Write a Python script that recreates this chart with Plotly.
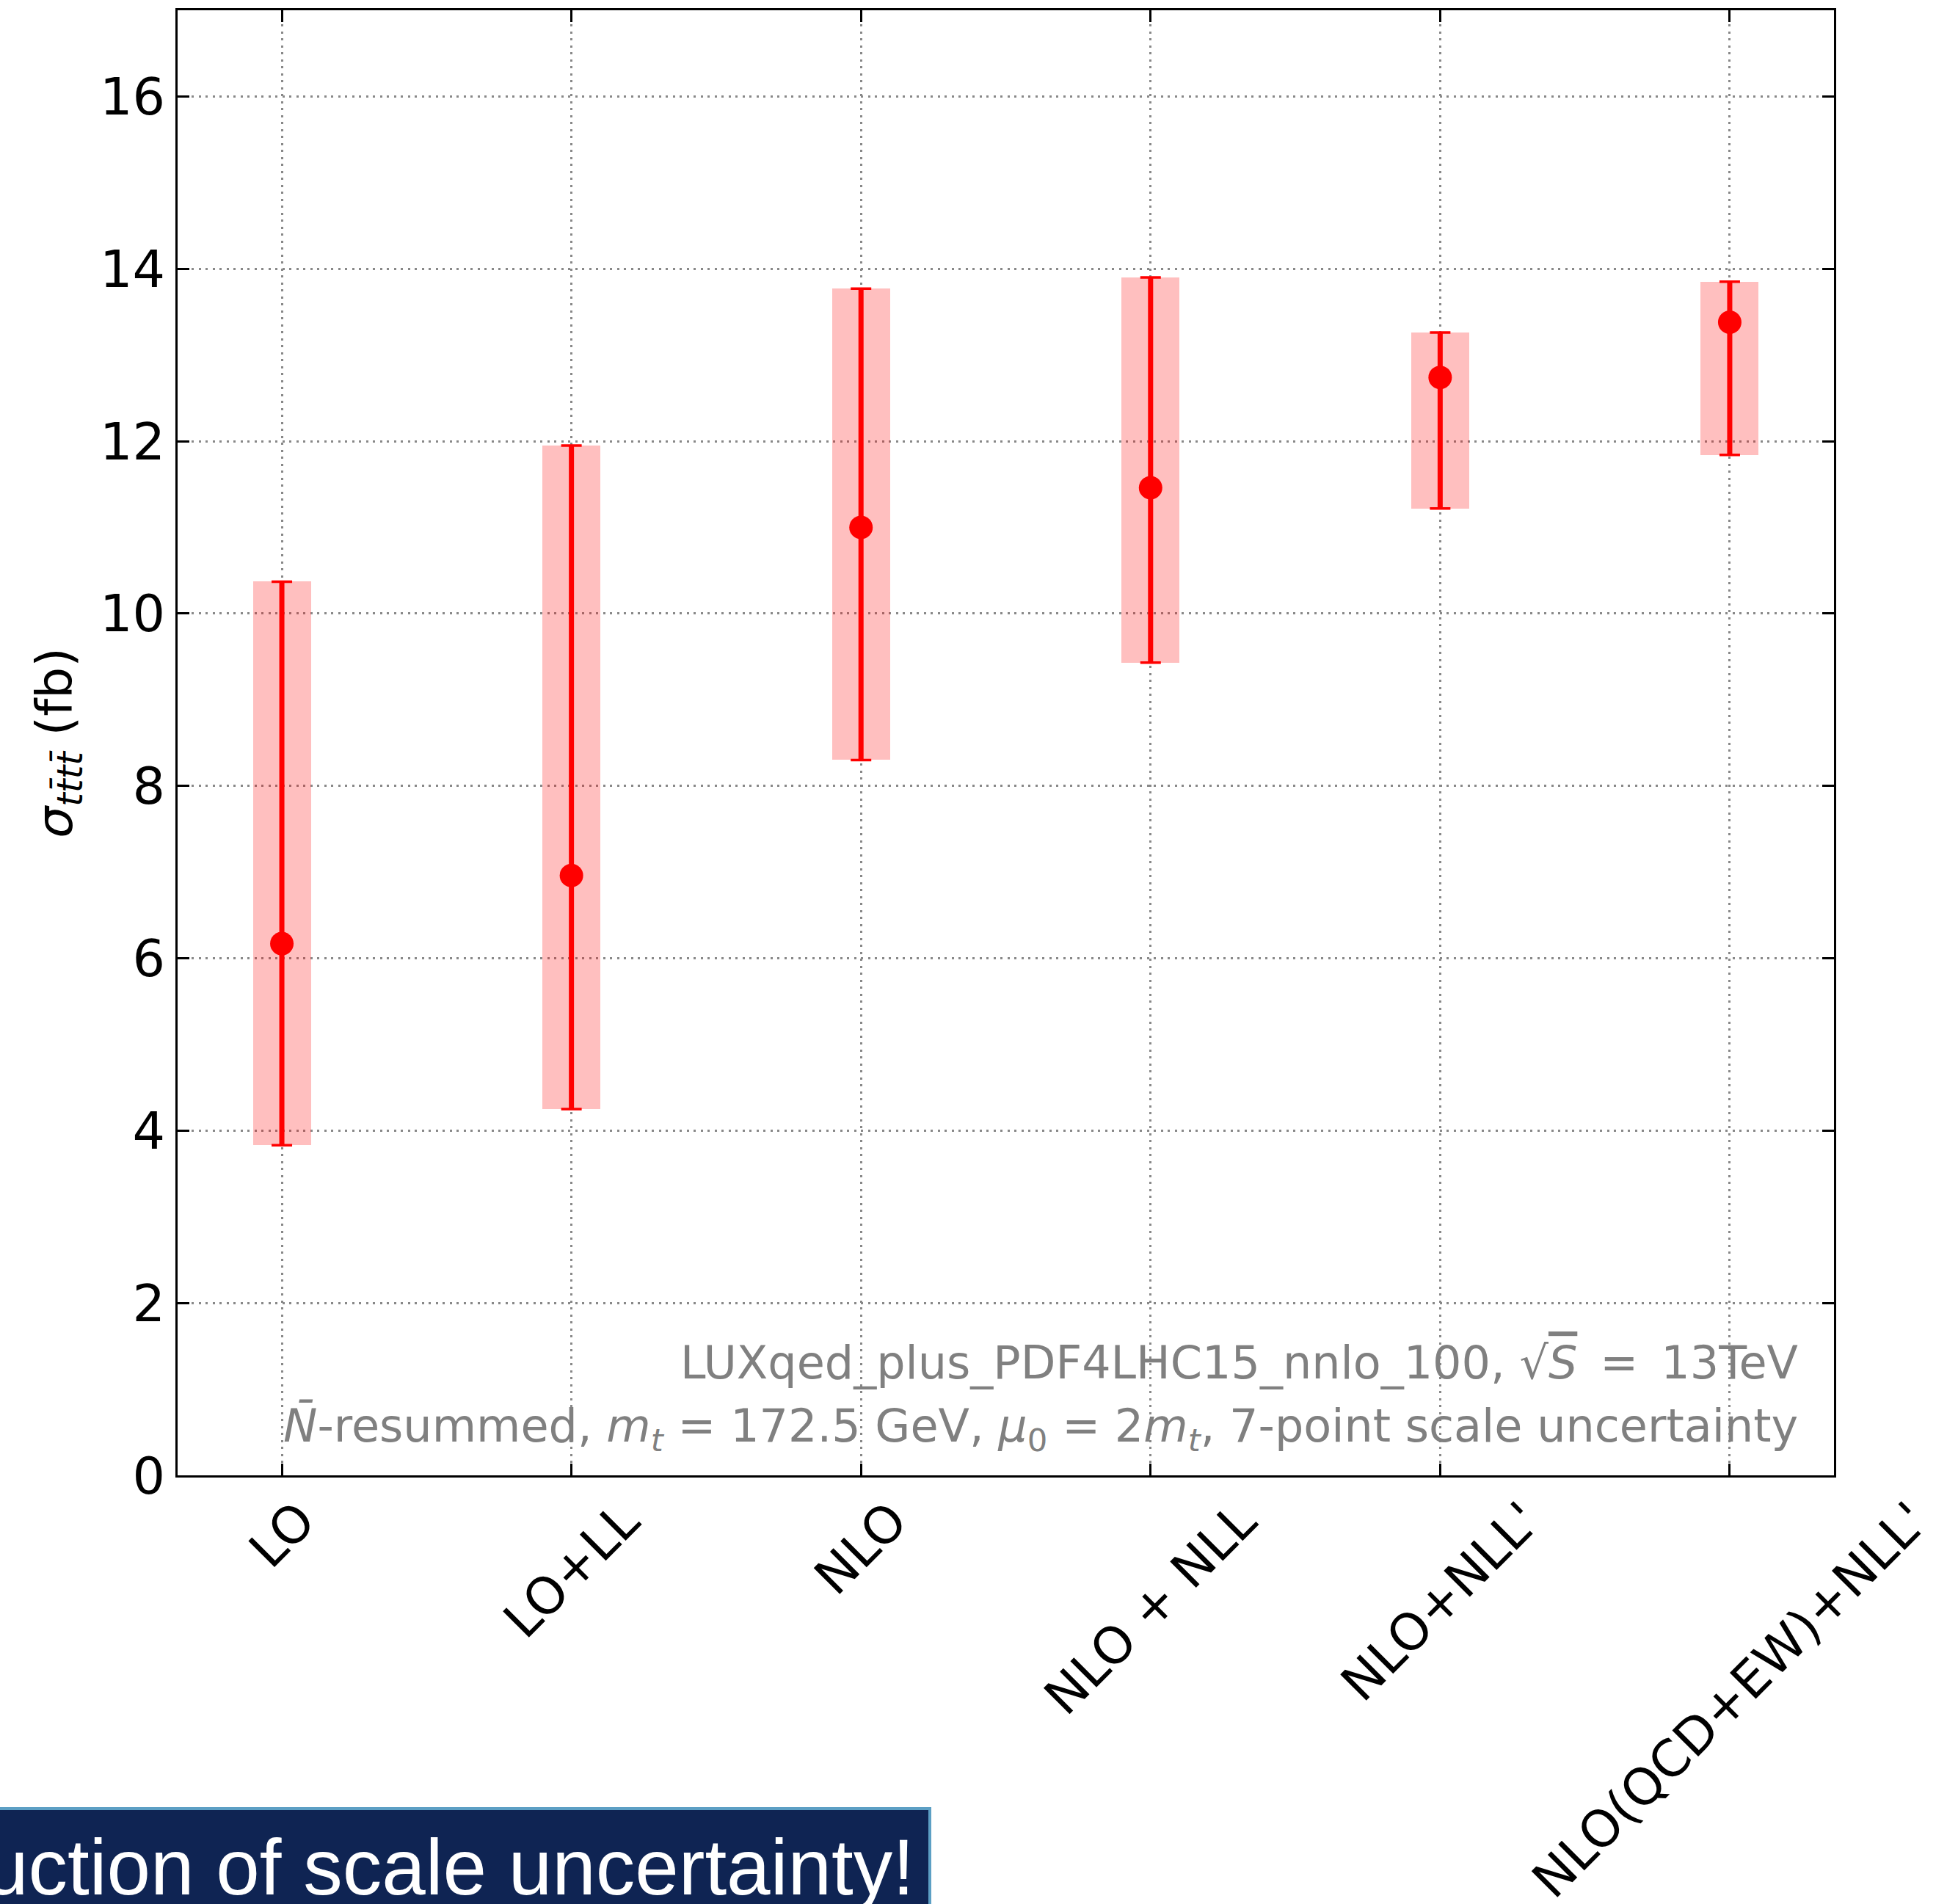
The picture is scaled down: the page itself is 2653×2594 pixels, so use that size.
import plotly.graph_objects as go

# Four-top cross sections at each perturbative order, with 7-point scale envelopes (fb)
categories = ["LO", "LO+LL", "NLO", "NLO + NLL", "NLO+NLL'", "NLO(QCD+EW)+NLL'"]
central = [6.17, 6.96, 11.00, 11.46, 12.74, 13.38]
upper = [10.37, 11.95, 13.77, 13.90, 13.26, 13.85]
lower = [3.83, 4.25, 8.30, 9.43, 11.22, 11.84]
y_ticks = [0, 2, 4, 6, 8, 10, 12, 14, 16]

W, H = 2653, 2594
ML, MR, MT, MB = 242, 154, 14, 584
PW, PH = W - ML - MR, H - MT - MB


def px_x(p):
    return (p - ML) / PW


def px_y(p):
    return (H - MB - p) / PH


pos = list(range(len(categories)))
RED = "#ff0000"
FONT = "DejaVu Sans"

fig = go.Figure()

# scale-uncertainty bands
fig.add_trace(go.Bar(
    x=pos, y=[u - l for u, l in zip(upper, lower)], base=lower, width=0.2,
    marker=dict(color="rgba(255,0,0,0.25)", line=dict(width=0)),
    hoverinfo="skip", showlegend=False,
))

# thick error-bar stems
sx, sy = [], []
for p, l, u in zip(pos, lower, upper):
    sx += [p, p, None]
    sy += [l, u, None]
fig.add_trace(go.Scatter(x=sx, y=sy, mode="lines", line=dict(color=RED, width=7),
                         hoverinfo="skip", showlegend=False))

# central values with thin caps
fig.add_trace(go.Scatter(
    x=pos, y=central, mode="markers",
    marker=dict(color=RED, size=32, line=dict(width=0)),
    error_y=dict(type="data", symmetric=False,
                 array=[u - c for u, c in zip(upper, central)],
                 arrayminus=[c - l for c, l in zip(central, lower)],
                 color=RED, thickness=3.5, width=14),
    showlegend=False,
))

axis_common = dict(
    showline=True, linecolor="black", linewidth=3, mirror="ticks",
    ticks="inside", ticklen=16, tickwidth=3, tickcolor="black",
    showgrid=True, gridcolor="#888888", gridwidth=3, griddash="3px,6.5px",
    zeroline=False,
)

fig.update_xaxes(range=[-0.36, 5.36], tickvals=pos, showticklabels=False, **axis_common)
fig.update_yaxes(
    range=[0, 17], tickvals=y_ticks, ticktext=[str(v) for v in y_ticks],
    tickfont=dict(family=FONT, size=70, color="black"), ticklabelstandoff=0,
    title=dict(text="<i>σ</i><sub><i>tt̄tt̄</i></sub> (fb)",
               font=dict(family=FONT, size=68, color="black"), standoff=16),
    **axis_common,
)

annotations = []
# rotated category labels, centred under each tick
for p, name in zip(pos, categories):
    annotations.append(dict(
        x=p, xref="x", y=0, yref="paper", xanchor="center", yanchor="top",
        yshift=-18, text=name, textangle=-45, showarrow=False,
        font=dict(family=FONT, size=69, color="black"),
    ))

# setup description
annotations.append(dict(
    x=px_x(2452), y=px_y(1856), xref="paper", yref="paper",
    xanchor="right", yanchor="middle", showarrow=False,
    text="LUXqed_plus_PDF4LHC15_nnlo_100, √<span style='text-decoration:overline'><i>S</i></span>\u2002=\u200213TeV",
    font=dict(family=FONT, size=62, color="#808080"),
))
annotations.append(dict(
    x=px_x(2452), y=px_y(1946), xref="paper", yref="paper",
    xanchor="right", yanchor="middle", showarrow=False,
    text="<i>N̄</i>-resummed, <i>m<sub>t</sub></i> = 172.5 GeV, <i>μ</i><sub>0</sub> = 2<i>m<sub>t</sub></i>, 7-point scale uncertainty",
    font=dict(family=FONT, size=62, color="#808080"),
))

# banner along the bottom edge
annotations.append(dict(
    x=px_x(1248), y=px_y(2582), xref="paper", yref="paper",
    xanchor="right", yanchor="bottom", yshift=-24, showarrow=False,
    text="uction of scale uncertainty!",
    font=dict(family="Liberation Sans", size=107, color="white"),
))

shapes = [dict(
    type="rect", xref="paper", yref="paper", layer="below",
    x0=px_x(-10), x1=px_x(1267), y0=px_y(2610), y1=px_y(2464),
    fillcolor="#0f2453", line=dict(color="#5c9fc4", width=4),
)]

fig.update_layout(
    width=W, height=H, margin=dict(l=ML, r=MR, t=MT, b=MB, autoexpand=False),
    paper_bgcolor="white", plot_bgcolor="white",
    annotations=annotations, shapes=shapes, bargap=0,
)

fig.write_html("out.html")
